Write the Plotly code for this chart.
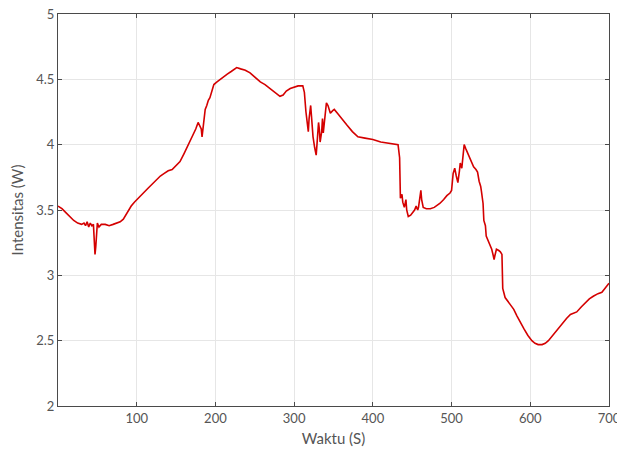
import plotly.graph_objects as go

time_s = [0, 5, 10, 15, 20, 25, 30, 33, 35, 37, 39, 41, 43, 45, 46, 47, 48, 49, 50, 52, 55, 60, 65, 70, 75, 79,
          83, 86, 89, 93, 97, 100, 105, 110, 115, 120, 125, 130, 135, 140, 145, 150, 155, 160, 165, 170, 175,
          178, 180, 182, 183, 185, 187, 189, 191, 193, 196, 198, 202, 206, 210, 215, 220, 227, 232, 238, 244,
          250, 257, 263, 269, 275, 282, 286, 290, 295, 300, 305, 311, 313, 315, 317, 318, 319, 320, 321, 322,
          323, 324, 326, 328, 329, 330, 331, 332, 333, 335, 336, 337, 339, 341, 343, 346, 349, 351, 355, 360,
          367, 374, 381, 390, 400, 410, 420, 432, 434, 435, 437, 438, 440, 442, 443, 445, 448, 451, 453, 455,
          457, 458, 460, 461, 462, 464, 468, 473, 478, 485, 490, 494, 498, 500, 502, 504, 506, 508, 510, 511,
          513, 515, 516, 518, 520, 524, 528, 531, 533, 535, 537, 538, 540, 541, 543, 544, 547, 549, 551, 553,
          554, 555, 557, 560, 562, 564, 565, 568, 573, 579, 583, 587, 592, 597, 602, 606, 610, 615, 619, 623,
          627, 632, 637, 642, 646, 651, 655, 659, 665, 670, 675, 680, 686, 691, 695, 700]
intensity_w = [3.53, 3.51, 3.48, 3.45, 3.42, 3.40, 3.39, 3.40, 3.38, 3.41, 3.37, 3.40, 3.38, 3.39, 3.30, 3.16,
               3.22, 3.38, 3.40, 3.37, 3.39, 3.39, 3.38, 3.39, 3.40, 3.41, 3.43, 3.46, 3.50, 3.53, 3.56, 3.58,
               3.61, 3.64, 3.67, 3.70, 3.73, 3.76, 3.78, 3.80, 3.81, 3.84, 3.87, 3.93, 3.99, 4.05, 4.12, 4.17,
               4.15, 4.12, 4.06, 4.15, 4.27, 4.30, 4.34, 4.36, 4.42, 4.46, 4.48, 4.50, 4.52, 4.54, 4.56, 4.59,
               4.58, 4.57, 4.55, 4.52, 4.48, 4.46, 4.43, 4.40, 4.37, 4.38, 4.41, 4.43, 4.44, 4.45, 4.45, 4.40,
               4.25, 4.12, 4.10, 4.20, 4.28, 4.30, 4.22, 4.10, 4.06, 3.98, 3.92, 4.00, 4.10, 4.17, 4.12, 4.02,
               4.10, 4.20, 4.09, 4.22, 4.32, 4.30, 4.24, 4.26, 4.27, 4.24, 4.20, 4.15, 4.10, 4.06, 4.05, 4.04,
               4.02, 4.01, 4.00, 3.90, 3.59, 3.62, 3.56, 3.52, 3.58, 3.50, 3.45, 3.46, 3.48, 3.50, 3.53, 3.50,
               3.52, 3.60, 3.65, 3.58, 3.52, 3.51, 3.51, 3.52, 3.55, 3.58, 3.61, 3.63, 3.65, 3.78, 3.82, 3.76,
               3.71, 3.80, 3.86, 3.82, 3.95, 4.00, 3.97, 3.94, 3.88, 3.83, 3.81, 3.79, 3.72, 3.68, 3.64, 3.55,
               3.42, 3.38, 3.30, 3.26, 3.22, 3.20, 3.15, 3.12, 3.15, 3.20, 3.19, 3.18, 3.16, 2.90, 2.83, 2.79,
               2.74, 2.69, 2.64, 2.59, 2.54, 2.50, 2.48, 2.47, 2.47, 2.48, 2.50, 2.53, 2.56, 2.60, 2.64, 2.67,
               2.70, 2.71, 2.72, 2.76, 2.79, 2.82, 2.84, 2.86, 2.87, 2.90, 2.94]

x_ticks = [100, 200, 300, 400, 500, 600, 700]
y_ticks = [2, 2.5, 3, 3.5, 4, 4.5, 5]
y_tick_text = ["2", "2.5", "3", "3.5", "4", "4.5", "5"]

fig = go.Figure()
fig.add_trace(go.Scatter(x=time_s, y=intensity_w, mode="lines",
                         line=dict(color="#d40000", width=1.6), showlegend=False))

axis_common = dict(showgrid=True, gridcolor="#e6e6e6", gridwidth=1, showline=True,
                   linecolor="#4a4a4a", linewidth=1.2, mirror="ticks", ticks="inside",
                   ticklen=4, tickcolor="#4a4a4a", zeroline=False, ticklabeloverflow="allow",
                   automargin=False,
                   tickfont=dict(family="Lato, sans-serif", size=13, color="#555555"))

fig.update_layout(
    width=617, height=454,
    margin=dict(l=58, r=8, t=14, b=48),
    paper_bgcolor="white", plot_bgcolor="white",
    font=dict(family="Lato, sans-serif", color="#555555"),
    xaxis=dict(range=[0, 700], tickvals=x_ticks,
               title=dict(text="Waktu (S)", font=dict(size=15, color="#555555"), standoff=8),
               **axis_common),
    yaxis=dict(range=[2, 5], tickvals=y_ticks, ticktext=y_tick_text,
               title=dict(text="Intensitas (W)", font=dict(size=15, color="#555555"), standoff=8),
               **axis_common),
)

fig.write_html("out.html")
